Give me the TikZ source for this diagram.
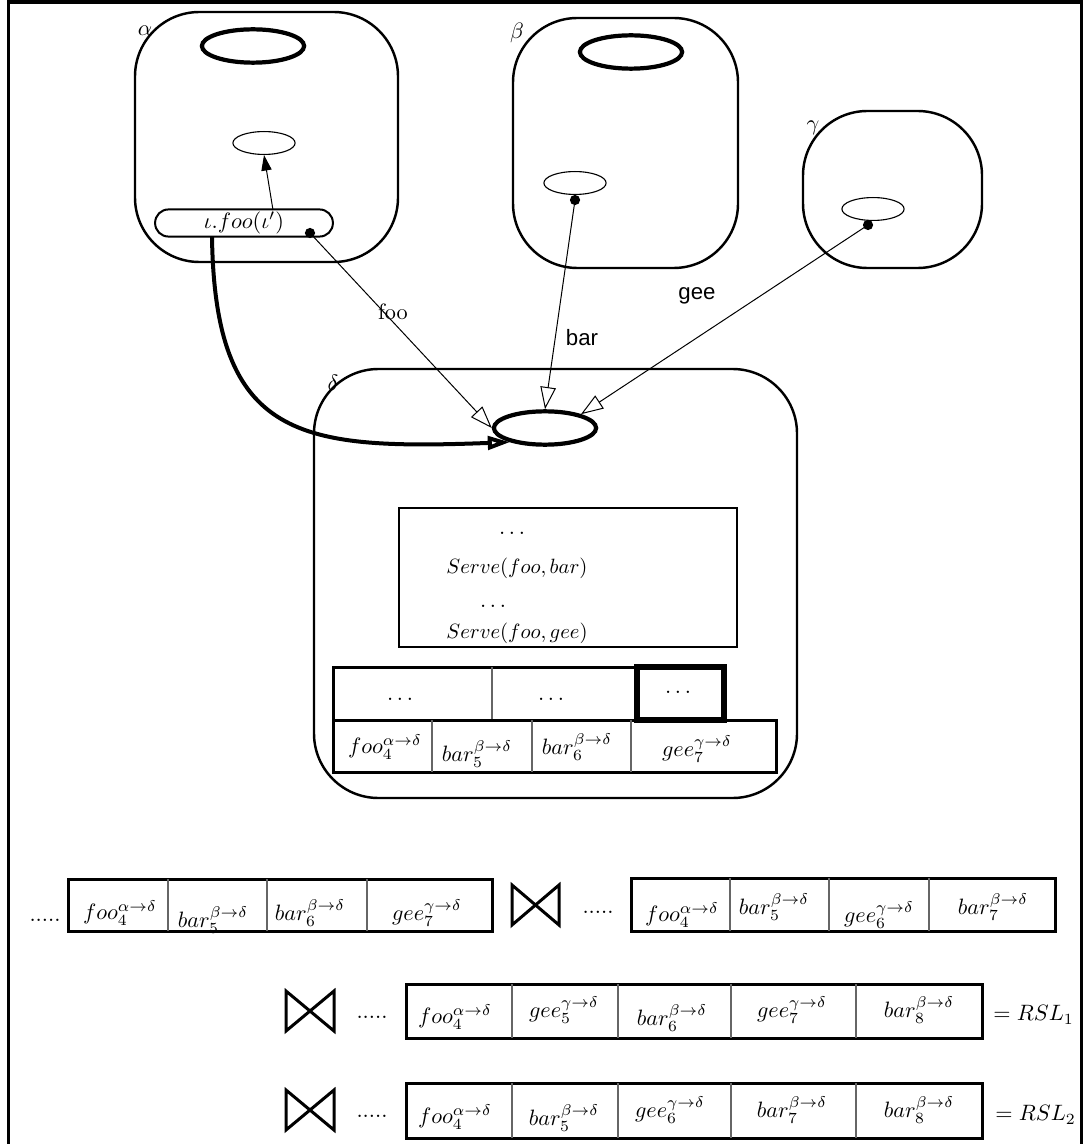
\documentclass[tikz,border=0pt]{standalone}
\usepackage{fontspec}
\newfontfamily\helv{Liberation Sans}
\usetikzlibrary{shapes.geometric,arrows.meta}
\begin{document}
\begin{tikzpicture}[x=0.45pt,y=-0.45pt,
  rbox/.style={line width=1.1pt, rounded corners=29pt},
  bigell/.style={draw, ellipse, line width=1.9pt, minimum width=46pt, minimum height=15pt, inner sep=0pt},
  smell/.style={draw, ellipse, line width=0.5pt, minimum width=28pt, minimum height=10.3pt, inner sep=0pt},
  dotn/.style={circle, fill, inner sep=0pt, minimum size=4.6pt},
  thinln/.style={line width=0.45pt},
  openarr/.style={thinln, -{Triangle[open,length=10pt,width=7pt]}},
  tabout/.style={line width=1.35pt},
  tabdiv/.style={line width=0.5pt, black!60},
  bowtie/.style={line width=1.35pt, line join=miter},
  lbl/.style={inner sep=0pt},
  srv/.style={inner sep=0pt, anchor=west, scale=0.93},
]
\useasboundingbox (0,0) rectangle (1083,1144);
% frame
\draw[line width=1.5pt] (8.5,1144) -- (8.5,2) -- (1081.5,2) -- (1081.5,1144);

% alpha
\draw[rbox] (135,12) rectangle (398,262);
\node[lbl] (la) at (145,31) {$\alpha$};
\node[bigell] (eA) at (253,46) {};
\node[smell] (sA) at (264,143) {};
\node[draw, line width=0.9pt, rounded corners=6pt, minimum width=80pt, minimum height=12.2pt, inner sep=0pt] (cap) at (244,223) {$\iota.foo(\iota')$};
\coordinate (capTop) at (273,210);
\coordinate (capBot) at (212,237);
\node[dotn] (dA) at (310,233) {};
\draw[thinln, -{Triangle[length=7pt,width=4.6pt]}] (capTop) -- (sA.south);

% beta
\draw[rbox] (513,18) rectangle (738,268);
\node[lbl] (lb) at (517,33) {$\beta$};
\node[bigell] (eB) at (631,52) {};
\node[smell] (sB) at (575,183) {};
\node[dotn] (dB) at (575,200) {};

% gamma
\draw[rbox] (803,111) rectangle (982,268);
\node[lbl] (lg) at (813,128) {$\gamma$};
\node[smell] (sG) at (873,209) {};
\node[dotn] (dG) at (868,225) {};

% delta
\draw[rbox] (314,369) rectangle (797,798);
\node[lbl] (ld) at (333,383) {$\delta$};
\node[bigell] (eD) at (545,428) {};

% connectors
\draw[openarr] (dA.center) -- (eD.west);
\draw[openarr] (dB.center) -- (eD.north);
\draw[openarr] (dG.center) -- (eD.21);
\draw[line width=1.8pt, -{Triangle[open,length=10pt,width=6pt]}] (capBot) .. controls (215,440) and (300,450) .. (eD.202);
\node[lbl] (lfoo) at (393,312) {foo};
\node[lbl] (lbar) at (582,338) {\helv bar};
\node[lbl] (lgee) at (697,296) {\helv gee};

% serve box
\draw[line width=1.1pt] (399,508) rectangle (737,647);
\node[lbl] (s1) at (512,533) {$\ldots$};
\node[srv] (s2) at (446,568) {$Serve(foo,bar)$};
\node[lbl] (s3) at (493,606) {$\ldots$};
\node[srv] (s4) at (446,633) {$Serve(foo,gee)$};

% delta rows
\draw[tabout] (637,667) -- (333,667) -- (333,720);
\draw[tabdiv] (492,667) -- (492,720);
\draw[line width=2.3pt] (637,667) rectangle (724,720);
\node[lbl] (u1) at (400,699) {$\ldots$};
\node[lbl] (u2) at (551,699) {$\ldots$};
\node[lbl] (u3) at (678,692) {$\ldots$};
\draw[tabout] (333,720) rectangle (776,772);
\draw[tabdiv] (432,720) -- (432,772) (532,720) -- (532,772) (631,720) -- (631,772);
\node[lbl] (d1) at (385,747) {$foo_4^{\alpha\rightarrow\delta}$};
\node[lbl] (d2) at (477,754) {$bar_5^{\beta\rightarrow\delta}$};
\node[lbl] (d3) at (577,747) {$bar_6^{\beta\rightarrow\delta}$};
\node[lbl] (d4) at (697,749) {$gee_7^{\gamma\rightarrow\delta}$};

% bottom row 1 left
\node[lbl] (dots1) at (45,920) {.....};
\draw[tabout] (68,879) rectangle (492,931);
\draw[tabdiv] (168,879) -- (168,931) (267,879) -- (267,931) (367,879) -- (367,931);
\node[lbl] (a1) at (120,913) {$foo_4^{\alpha\rightarrow\delta}$};
\node[lbl] (a2) at (213,920) {$bar_5^{\beta\rightarrow\delta}$};
\node[lbl] (a3) at (310,913) {$bar_6^{\beta\rightarrow\delta}$};
\node[lbl] (a4) at (427,913) {$gee_7^{\gamma\rightarrow\delta}$};
\draw[bowtie] (512,885) -- (512,925) -- (559,885) -- (559,925) -- cycle;
\node[lbl] (dots2) at (598,912) {.....};
\draw[tabout] (631,878) rectangle (1055,931);
\draw[tabdiv] (730,878) -- (730,931) (829,878) -- (829,931) (929,878) -- (929,931);
\node[lbl] (b1) at (682,915) {$foo_4^{\alpha\rightarrow\delta}$};
\node[lbl] (b2) at (774,907) {$bar_5^{\beta\rightarrow\delta}$};
\node[lbl] (b3) at (879,915) {$gee_6^{\gamma\rightarrow\delta}$};
\node[lbl] (b4) at (993,907) {$bar_7^{\beta\rightarrow\delta}$};

% row 2
\draw[bowtie] (286,991) -- (286,1031) -- (334,991) -- (334,1031) -- cycle;
\node[lbl] (dots3) at (372,1017) {.....};
\draw[tabout] (406,984) rectangle (982,1038);
\draw[tabdiv] (512,984) -- (512,1038) (618,984) -- (618,1038) (731,984) -- (731,1038) (856,984) -- (856,1038);
\node[lbl] (c1) at (455,1017) {$foo_4^{\alpha\rightarrow\delta}$};
\node[lbl] (c2) at (564,1010) {$gee_5^{\gamma\rightarrow\delta}$};
\node[lbl] (c3) at (672,1018) {$bar_6^{\beta\rightarrow\delta}$};
\node[lbl] (c4) at (792,1010) {$gee_7^{\gamma\rightarrow\delta}$};
\node[lbl] (c5) at (919,1010) {$bar_8^{\beta\rightarrow\delta}$};
\node[lbl, anchor=west] (r1) at (993,1015) {$=RSL_1$};

% row 3
\draw[bowtie] (286,1090) -- (286,1130) -- (334,1090) -- (334,1130) -- cycle;
\node[lbl] (dots4) at (372,1116) {.....};
\draw[tabout] (406,1083) rectangle (982,1138);
\draw[tabdiv] (512,1083) -- (512,1138) (618,1083) -- (618,1138) (731,1083) -- (731,1138) (856,1083) -- (856,1138);
\node[lbl] (e1) at (455,1117) {$foo_4^{\alpha\rightarrow\delta}$};
\node[lbl] (e2) at (564,1118) {$bar_5^{\beta\rightarrow\delta}$};
\node[lbl] (e3) at (670,1110) {$gee_6^{\gamma\rightarrow\delta}$};
\node[lbl] (e4) at (792,1110) {$bar_7^{\beta\rightarrow\delta}$};
\node[lbl] (e5) at (919,1110) {$bar_8^{\beta\rightarrow\delta}$};
\node[lbl, anchor=west] (r2) at (995,1115) {$=RSL_2$};
\end{tikzpicture}
\end{document}
